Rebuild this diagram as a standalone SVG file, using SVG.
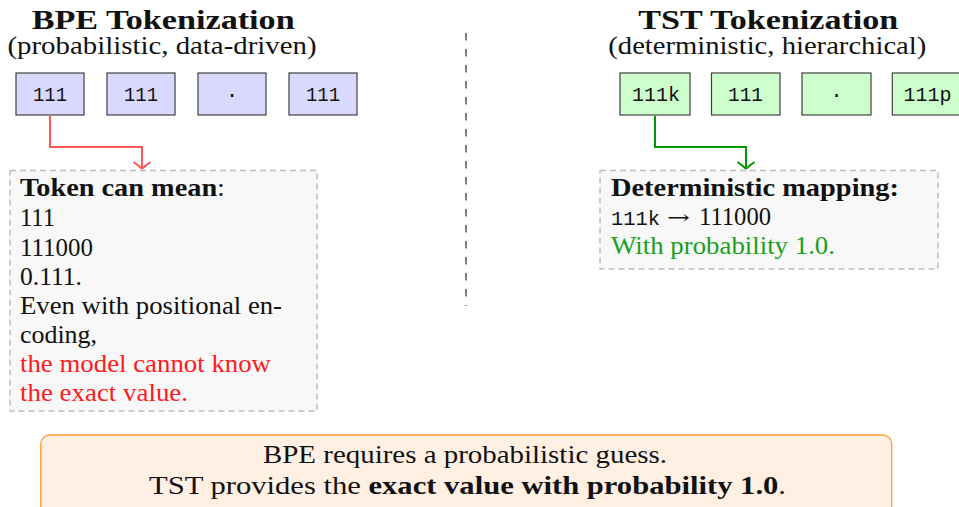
<svg xmlns="http://www.w3.org/2000/svg" width="959" height="507" viewBox="0 0 959 507">
<style>
  text { font-family: "Liberation Serif", "Times New Roman", serif; fill: #111; }
  .title { font-size: 28px; font-weight: bold; }
  .sub { font-size: 25px; }
  .body { font-size: 25px; }
  .b { font-weight: bold; }
  .mono { font-family: "Liberation Mono", "Courier New", monospace; font-size: 21px; text-anchor: middle; }
  .arrowglyph { font-family: "DejaVu Serif", serif; font-size: 20px; }
  .tokB { fill: #d9d9ff; stroke: #404040; stroke-width: 1.2; }
  .tokT { fill: #ccffcc; stroke: #404040; stroke-width: 1.2; }
  .note { fill: #f8f8f8; stroke: #bdbdbd; stroke-width: 1.5; stroke-dasharray: 6 4; }
  .red { fill: #ff1a1a; }
  .green { fill: #1a9f1a; }
  .sum { fill: #fff0e3; stroke: #ff9a33; stroke-width: 1.3; }
</style>
<defs>
  <marker id="arrR" viewBox="-10 -10 20 20" markerWidth="20" markerHeight="20" refX="0" refY="0" orient="auto" markerUnits="userSpaceOnUse">
    <path d="M-7,-8.5 Q-2,-1.5 0,0 M-7,8.5 Q-2,1.5 0,0" fill="none" stroke="#ff5555" stroke-width="2"/>
  </marker>
  <marker id="arrG" viewBox="-10 -10 20 20" markerWidth="20" markerHeight="20" refX="0" refY="0" orient="auto" markerUnits="userSpaceOnUse">
    <path d="M-7,-8.5 Q-2,-1.5 0,0 M-7,8.5 Q-2,1.5 0,0" fill="none" stroke="#009900" stroke-width="2"/>
  </marker>
</defs>

<g id="headings">
  <text class="title" x="31.7" y="29" textLength="263" lengthAdjust="spacingAndGlyphs">BPE Tokenization</text>
  <text class="sub" x="7.5" y="54" textLength="309" lengthAdjust="spacingAndGlyphs">(probabilistic, data-driven)</text>
  <text class="title" x="638.3" y="29" textLength="260" lengthAdjust="spacingAndGlyphs">TST Tokenization</text>
  <text class="sub" x="608.3" y="54" textLength="318" lengthAdjust="spacingAndGlyphs">(deterministic, hierarchical)</text>
</g>

<g id="divider">
  <line x1="466" y1="33" x2="466" y2="306" stroke="#808080" stroke-width="2" stroke-dasharray="7.5 8.5"/>
</g>

<g id="bpe-tok-1"><rect class="tokB" x="16" y="73" width="68" height="42"/><text class="mono" x="50" y="101" textLength="34" lengthAdjust="spacingAndGlyphs">111</text></g>
<g id="bpe-tok-2"><rect class="tokB" x="107" y="73" width="68" height="42"/><text class="mono" x="141" y="101" textLength="34" lengthAdjust="spacingAndGlyphs">111</text></g>
<g id="bpe-tok-3"><rect class="tokB" x="198" y="73" width="68" height="42"/><text class="mono" x="232" y="101">·</text></g>
<g id="bpe-tok-4"><rect class="tokB" x="289" y="73" width="68" height="42"/><text class="mono" x="323" y="101" textLength="34" lengthAdjust="spacingAndGlyphs">111</text></g>

<g id="tst-tok-1"><rect class="tokT" x="620" y="73" width="70" height="42"/><text class="mono" x="656" y="101" textLength="48" lengthAdjust="spacingAndGlyphs">111k</text></g>
<g id="tst-tok-2"><rect class="tokT" x="711.5" y="73" width="68.5" height="42"/><text class="mono" x="745.5" y="101" textLength="35" lengthAdjust="spacingAndGlyphs">111</text></g>
<g id="tst-tok-3"><rect class="tokT" x="802" y="73" width="69" height="42"/><text class="mono" x="836.5" y="101">·</text></g>
<g id="tst-tok-4"><rect class="tokT" x="892.3" y="73" width="70" height="42"/><text class="mono" x="927.5" y="101" textLength="48" lengthAdjust="spacingAndGlyphs">111p</text></g>

<g id="connectors">
  <path d="M50,116 V147 H142 V169" fill="none" stroke="#ff5555" stroke-width="2" marker-end="url(#arrR)"/>
  <path d="M655,116 V147 H746 V169" fill="none" stroke="#009900" stroke-width="2" marker-end="url(#arrG)"/>
</g>

<g id="bpe-note">
  <rect class="note" x="10" y="170.5" width="307" height="240.5"/>
  <text class="body" x="20" y="196" textLength="205" lengthAdjust="spacingAndGlyphs"><tspan class="b">Token can mean</tspan>:</text>
  <text class="body" x="20" y="226" textLength="35" lengthAdjust="spacingAndGlyphs">111</text>
  <text class="body" x="20" y="255.5" textLength="73" lengthAdjust="spacingAndGlyphs">111000</text>
  <text class="body" x="20" y="285" textLength="62" lengthAdjust="spacingAndGlyphs">0.111.</text>
  <text class="body" x="20" y="314" textLength="262" lengthAdjust="spacingAndGlyphs">Even with positional en-</text>
  <text class="body" x="20" y="343" textLength="77" lengthAdjust="spacingAndGlyphs">coding,</text>
  <text class="body red" x="20" y="372" textLength="251" lengthAdjust="spacingAndGlyphs">the model cannot know</text>
  <text class="body red" x="20" y="401" textLength="168" lengthAdjust="spacingAndGlyphs">the exact value.</text>
</g>

<g id="tst-note">
  <rect class="note" x="600" y="170.5" width="338" height="98.5"/>
  <text class="body b" x="611" y="196" textLength="288" lengthAdjust="spacingAndGlyphs">Deterministic mapping:</text>
  <text class="mono" x="635.5" y="225" textLength="49" lengthAdjust="spacingAndGlyphs">111k</text>
  <text class="arrowglyph" x="667" y="224" textLength="23" lengthAdjust="spacingAndGlyphs">→</text>
  <text class="body" x="699" y="225" textLength="72" lengthAdjust="spacingAndGlyphs">111000</text>
  <text class="body green" x="611" y="254" textLength="224" lengthAdjust="spacingAndGlyphs">With probability 1.0.</text>
</g>

<g id="summary">
  <rect class="sum" x="40.7" y="435" width="851" height="90" rx="9" ry="9"/>
  <text class="body" x="263" y="463" textLength="404" lengthAdjust="spacingAndGlyphs">BPE requires a probabilistic guess.</text>
  <text class="body" x="149" y="494" textLength="637" lengthAdjust="spacingAndGlyphs">TST provides the <tspan class="b">exact value with probability 1.0</tspan>.</text>
</g>
</svg>
